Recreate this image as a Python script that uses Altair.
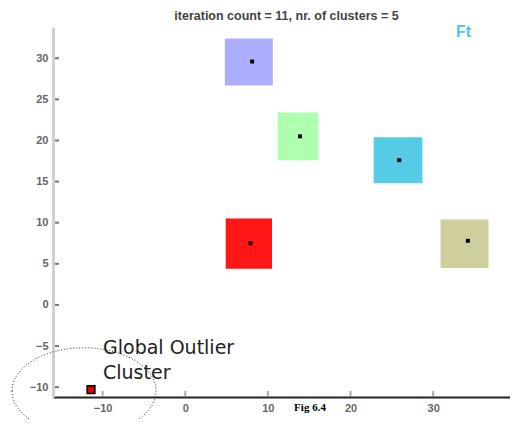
import altair as alt
import pandas as pd

# cluster extents (data units) and centroids
cluster = ["red", "blue", "green", "cyan", "khaki"]
x_lo = [4.9, 4.8, 11.2, 22.8, 30.9]
x_hi = [10.5, 10.6, 16.1, 28.7, 36.7]
y_lo = [4.4, 26.7, 17.6, 14.8, 4.5]
y_hi = [10.5, 32.4, 23.4, 20.4, 10.4]
cx = [7.9, 8.1, 13.9, 25.9, 34.2]
cy = [7.5, 29.6, 20.5, 17.6, 7.8]
colors = ["#ff0a0a", "#aaaaff", "#aaffaa", "#4cc8e4", "#cccc99"]

outlier_x = [-11.4]
outlier_y = [-10.3]

x_ticks = [-10, 0, 10, 20, 30, 40]
y_ticks = [-10, -5, 0, 5, 10, 15, 20, 25, 30]

df = pd.DataFrame({"cluster": cluster, "x_lo": x_lo, "x_hi": x_hi,
                   "y_lo": y_lo, "y_hi": y_hi, "cx": cx, "cy": cy})
out = pd.DataFrame({"x": outlier_x, "y": outlier_y})
xt = pd.DataFrame({"v": x_ticks})
yt = pd.DataFrame({"v": y_ticks})

xs = alt.Scale(domain=[-16, 39.3], nice=False, zero=False)
ys = alt.Scale(domain=[-11.2, 33.8], nice=False, zero=False)

xax = alt.Axis(values=x_ticks, title=None, grid=False, domainColor="#222", domainWidth=2,
               ticks=False, labelColor="#666", labelFont="Liberation Sans", labelFlush=False,
               labelFontWeight="bold", labelFontSize=11, labelPadding=5)
yax = alt.Axis(values=y_ticks, title=None, grid=False, domainColor="#d0d0d0", domainWidth=3,
               ticks=False, labelColor="#666", labelFont="Liberation Sans", labelFlush=False,
               labelFontWeight="bold", labelFontSize=11, labelPadding=5)

rects = alt.Chart(df).mark_rect(opacity=0.95).encode(
    x=alt.X("x_lo:Q", scale=xs, axis=xax), x2="x_hi:Q",
    y=alt.Y("y_lo:Q", scale=ys, axis=yax), y2="y_hi:Q",
    color=alt.Color("cluster:N", scale=alt.Scale(domain=cluster, range=colors), legend=None),
)

xtk = alt.Chart(xt).mark_rule(color="#aaa", strokeWidth=2).encode(
    x=alt.X("v:Q", scale=xs), y=alt.value(364), y2=alt.value(369))
ytk = alt.Chart(yt).mark_rule(color="#777", strokeWidth=2).encode(
    y=alt.Y("v:Q", scale=ys), x=alt.value(2), x2=alt.value(6))

cent = alt.Chart(df).mark_square(color="black", size=16, opacity=1).encode(
    x=alt.X("cx:Q", scale=xs), y=alt.Y("cy:Q", scale=ys))

outl = alt.Chart(out).mark_square(color="#e00000", stroke="black", strokeWidth=1.5,
                                  size=60, opacity=1).encode(
    x=alt.X("x:Q", scale=xs), y=alt.Y("y:Q", scale=ys))

ell = alt.Chart(out).mark_point(
    shape="M -1 0 A 1 0.6 0 1 0 1 0 A 1 0.6 0 1 0 -1 0 Z",
    size=144 * 144, filled=False, stroke="#333", strokeWidth=1, strokeDash=[1, 2], opacity=1,
    clip=False).encode(x=alt.value(31), y=alt.value(364))

lab = alt.Chart(out).mark_text(
    text=["Global Outlier", "Cluster"], align="left", baseline="alphabetic", fontSize=19,
    font="DejaVu Sans", color="#222", lineHeight=25).encode(x=alt.value(50), y=alt.value(327))

ft = alt.Chart(out).mark_text(text="Ft", fontSize=16, font="Liberation Sans", fontWeight="bold",
                              color="#4cc8e4", align="left", baseline="top").encode(
    x=alt.value(403), y=alt.value(-3))

fig = alt.Chart(out).mark_text(text="Fig 6.4", fontSize=11, font="Liberation Serif", fontWeight="bold",
                               color="#000", align="center", baseline="middle").encode(
    x=alt.value(257), y=alt.value(381))

chart = alt.layer(rects, xtk, ytk, cent, outl, ell, lab, ft, fig).properties(
    width=457, height=370,
    title=alt.TitleParams("iteration count = 11,  nr. of clusters = 5", fontSize=12.5,
                          font="Liberation Sans", fontWeight="bold", color="#444", offset=2, dx=5),
    autosize="none",
    padding={"left": 45, "top": 19, "right": 0, "bottom": 22},
).configure_view(stroke=None)

chart.save("out.html", embed_options={"renderer": "svg", "actions": False})
